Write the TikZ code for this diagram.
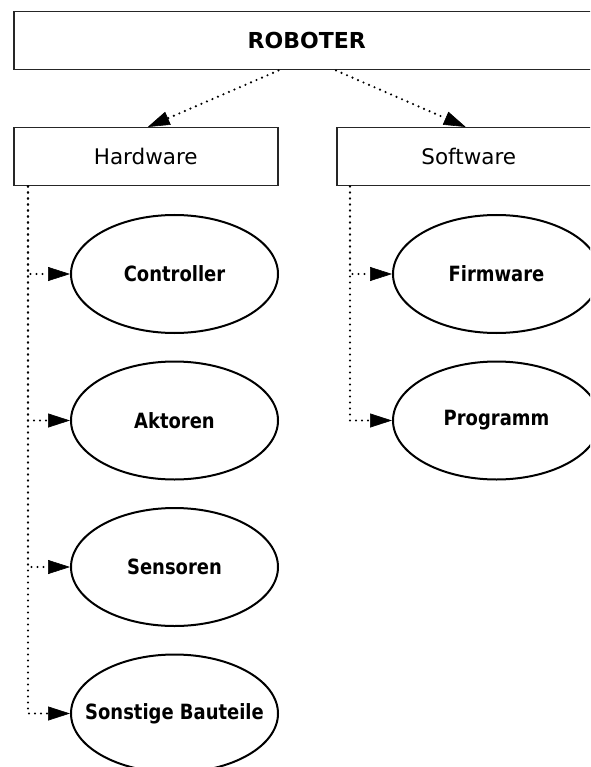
\documentclass[tikz,border=0pt]{standalone}
\usepackage{fontspec}
\setmainfont{DejaVu Sans}
\newfontfamily\ovalfont[FakeStretch=0.855]{DejaVu Sans}
\usetikzlibrary{arrows.meta,shapes.geometric}

\tikzset{
  catbox/.style={draw=black!85, line width=1.5pt, rectangle, inner sep=0pt,
    minimum height=58pt, anchor=north west},
  titletext/.style={font=\fontsize{22}{26}\selectfont\bfseries},
  cattext/.style={font=\fontsize{21.5}{26}\selectfont},
  oval/.style={draw=black, line width=2pt, ellipse, inner sep=0pt,
    minimum width=207pt, minimum height=118pt,
    font=\ovalfont\fontsize{21}{25}\selectfont\bfseries},
  conn/.style={line width=2.4pt, line cap=round, dash pattern=on 0pt off 6pt,
    -{Triangle[length=22pt,width=14pt,line width=0.6pt]}},
}

\begin{document}
\begin{tikzpicture}[x=1pt,y=-1pt]
  \useasboundingbox (0,0) rectangle (590,767);
  \clip (0,0) rectangle (590,767);

  % top level
  \node[catbox, minimum width=586pt] (robot) at (13,11) {};
  \node[titletext] (robotlabel) at (robot.center) {ROBOTER};

  % categories
  \node[catbox, minimum width=264pt] (hw) at (13,127) {};
  \node[cattext] (hwlabel) at (hw.center) {Hardware};
  \node[catbox, minimum width=264pt] (sw) at (336,127) {};
  \node[cattext] (swlabel) at (sw.center) {Software};

  \draw[conn] (robot.south -| hw.east) -- ([xshift=2pt]hw.north);
  \draw[conn] (robot.south -| sw.west) -- ([xshift=-3pt]sw.north);

  % hardware parts
  \node[oval] (ctrl) at (174.5,274)   {\makebox[0pt]{Controller}};
  \node[oval] (akt)  at (174.5,420.5) {\makebox[0pt]{Aktoren}};
  \node[oval] (sens) at (174.5,567)   {\makebox[0pt]{Sensoren}};
  \node[oval] (sonst) at (174.5,713.5) {\makebox[0pt]{Sonstige Bauteile}};

  % software parts
  \node[oval] (fw)   at (496.5,274)   {\makebox[0pt]{Firmware}};
  \node[oval] (prog) at (496.5,420.5) {\makebox[0pt]{Programm}};

  \coordinate (hwstem) at ([xshift=15pt]hw.south west);
  \coordinate (swstem) at ([xshift=14pt]sw.south west);

  \foreach \t in {ctrl,akt,sens,sonst}
    \draw[conn] (hwstem) |- (\t.west);
  \foreach \t in {fw,prog}
    \draw[conn] (swstem) |- (\t.west);
\end{tikzpicture}
\end{document}
